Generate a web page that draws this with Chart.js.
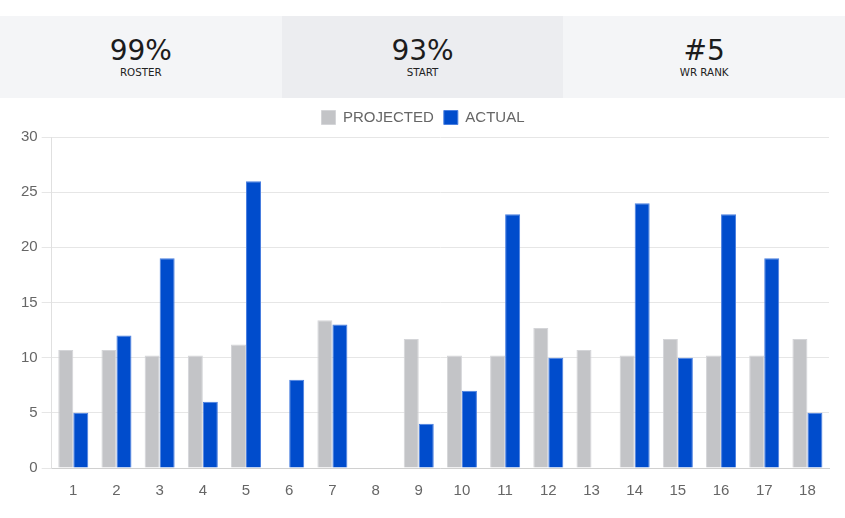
<!DOCTYPE html>
<html>
<head>
<meta charset="utf-8">
<script src="https://cdn.jsdelivr.net/npm/chart.js@4"></script>
<style>
    body { margin: 0; background: #fff; width: 845px; height: 518px; overflow: hidden; }
    .stats { position: absolute; top: 16px; left: 0; width: 845px; height: 82px; display: flex; }
    .stat { flex: 1; background: #f4f5f7; text-align: center; font-family: 'DejaVu Sans', sans-serif; color: #1c1c1c; }
    .stat.mid { background: #ecedf0; }
    .stat .num { font-size: 28px; line-height: 28px; margin-top: 20.7px; }
    .stat .lbl { font-size: 10.3px; line-height: 12px; margin-top: 1.4px; color: #222; }
    .wrap { position: absolute; top: 100px; left: 0; width: 845px; height: 418px; }
</style>
</head>
<body>
<div class="stats">
    <div class="stat"><div class="num">99%</div><div class="lbl">ROSTER</div></div>
    <div class="stat mid"><div class="num">93%</div><div class="lbl">START</div></div>
    <div class="stat"><div class="num">#5</div><div class="lbl">WR RANK</div></div>
</div>
<div class="wrap"><canvas id="chart"></canvas></div>
<script>
const weeks = ["1", "2", "3", "4", "5", "6", "7", "8", "9", "10", "11", "12", "13", "14", "15", "16", "17", "18"];
const projected = [10.7, 10.7, 10.2, 10.2, 11.2, 0, 13.4, 0, 11.7, 10.2, 10.2, 12.7, 10.7, 10.2, 11.7, 10.2, 10.2, 11.7];
const actual = [5, 12, 19, 6, 26, 8, 13, 0, 4, 7, 23, 10, 0, 24, 10, 23, 19, 5];
const yTicks = [0, 5, 10, 15, 20, 25, 30];

const font = { family: "'Liberation Sans', Arial, sans-serif", size: 15 };

// a bit more room under the legend
const legendGap = {
    id: 'legendGap',
    beforeInit(chart) {
        const fit = chart.legend.fit;
        chart.legend.fit = function () {
            fit.bind(chart.legend)();
            this.height += 2;
        };
    }
};

new Chart(document.getElementById('chart'), {
    type: 'bar',
    data: {
        labels: weeks,
        datasets: [
            {
                label: 'PROJECTED',
                data: projected,
                backgroundColor: '#c3c4c7',
                borderColor: '#d4d5d8',
                borderWidth: 1
            },
            {
                label: 'ACTUAL',
                data: actual,
                backgroundColor: '#004ccc',
                borderColor: '#4a7fe0',
                borderWidth: 1
            }
        ]
    },
    plugins: [legendGap],
    options: {
        responsive: true,
        maintainAspectRatio: false,
        animation: false,
        categoryPercentage: 0.695,
        barPercentage: 1.0,
        layout: { padding: { left: 17, right: 16, top: 0, bottom: 12 } },
        plugins: {
            legend: {
                labels: { font: font, color: '#666', boxWidth: 14, boxHeight: 14, padding: 10 }
            },
            tooltip: { enabled: false }
        },
        scales: {
            x: {
                grid: { display: false },
                border: { color: '#d0d0d0' },
                ticks: { font: font, color: '#666', padding: 6 }
            },
            y: {
                min: 0,
                max: 30,
                afterBuildTicks: axis => { axis.ticks = yTicks.map(v => ({ value: v })); },
                grid: { color: '#e6e6e6', tickLength: 10 },
                border: { color: '#e0e0e0' },
                ticks: { font: font, color: '#666', padding: 4 }
            }
        }
    }
});
</script>
</body>
</html>
